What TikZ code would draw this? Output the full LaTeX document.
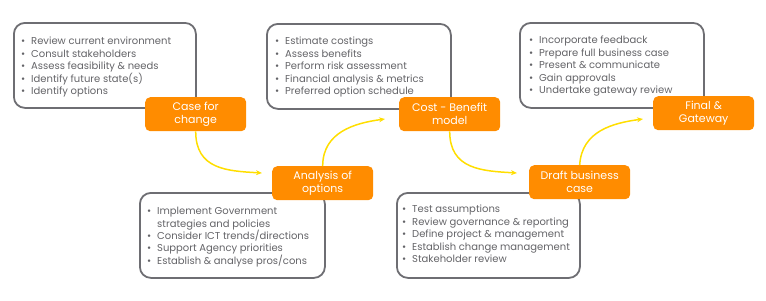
\documentclass[tikz,border=0pt]{standalone}
\usepackage{fontspec}
\setmainfont{Poppins}
\usetikzlibrary{arrows.meta}
\definecolor{boxgray}{RGB}{110,110,115}
\definecolor{txtgray}{RGB}{100,100,104}
\definecolor{orng}{RGB}{255,140,0}
\definecolor{ylw}{RGB}{255,222,0}
\tikzset{
  listbox/.style={draw=boxgray, line width=1.8pt, rounded corners=11pt, fill=white, anchor=north west, inner sep=0pt},
  listtext/.style={anchor=north west, inner sep=0pt, text=txtgray, font=\fontsize{10}{12.4}\selectfont, align=left},
  stage/.style={fill=orng, rounded corners=5pt, text=white, minimum width=101pt, minimum height=34pt, inner sep=0pt, align=center, font=\fontsize{11}{13.2}\selectfont, anchor=north west},
  flow/.style={draw=ylw, line width=1.5pt, -{Stealth[length=6pt,width=5pt]}}
}
\newcommand{\bl}{\makebox[10pt][l]{\textbullet}}
\newcommand{\nb}{\makebox[10pt][l]{}}
\begin{document}
\begin{tikzpicture}[x=1pt,y=-1pt]
\useasboundingbox (0,0) rectangle (766,300);
% list boxes
\node[listbox, minimum width=182pt, minimum height=85pt] (b1) at (13,22) {};
\node[listbox, minimum width=185pt, minimum height=85pt] (b2) at (139,192) {};
\node[listbox, minimum width=184pt, minimum height=85pt] (b3) at (266,23) {};
\node[listbox, minimum width=183pt, minimum height=85pt] (b4) at (396,192) {};
\node[listbox, minimum width=184pt, minimum height=85pt] (b5) at (519,22) {};
% list texts
\node[listtext] (t1) at (21,37) {\bl Review current environment\\\bl Consult stakeholders\\\bl Assess feasibility \& needs\\\bl Identify future state(s)\\\bl Identify options};
\node[listtext] (t2) at (147,207) {\bl Implement Government\\\nb strategies and policies\\\bl Consider ICT trends/directions\\\bl Support Agency priorities\\\bl Establish \& analyse pros/cons};
\node[listtext] (t3) at (275,37) {\bl Estimate costings\\\bl Assess benefits\\\bl Perform risk assessment\\\bl Financial analysis \& metrics\\\bl Preferred option schedule};
\node[listtext] (t4) at (402,205) {\bl Test assumptions\\\bl Review governance \& reporting\\\bl Define project \& management\\\bl Establish change management\\\bl Stakeholder review};
\node[listtext] (t5) at (529,36) {\bl Incorporate feedback\\\bl Prepare full business case\\\bl Present \& communicate\\\bl Gain approvals\\\bl Undertake gateway review};
% stages
\node[stage] (s1) at (145,97) {Case for\\change};
\node[stage] (s2) at (272,166) {Analysis of\\options};
\node[stage] (s3) at (399,97) {Cost - Benefit\\model};
\node[stage] (s4) at (529,165) {Draft business\\case};
\node[stage] (s5) at (653,96) {Final \&\\Gateway};
% arrow end points
\coordinate (e1) at (262,173);
\coordinate (e2) at (385,119);
\coordinate (e3) at (517,173);
\coordinate (e4) at (643,119);
\draw[flow] (s1.south) .. controls +(0,38) and +(-35,-2) .. (e1);
\draw[flow] (s2.north) .. controls +(0,-34) and +(-30,4) .. (e2);
\draw[flow] (s3.south) .. controls +(0,38) and +(-35,-2) .. (e3);
\draw[flow] (s4.north) .. controls +(2,-34) and +(-30,4) .. (e4);
\end{tikzpicture}
\end{document}
